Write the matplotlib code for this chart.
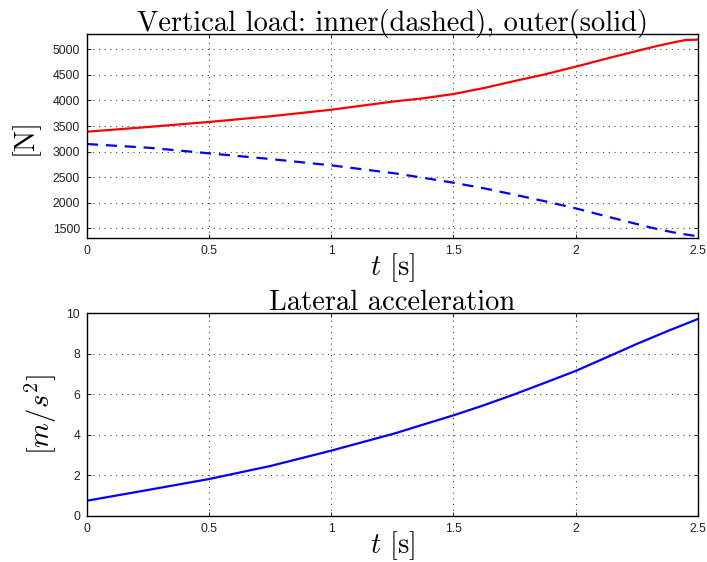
import matplotlib
matplotlib.use("Agg")
import matplotlib.pyplot as plt

plt.rcParams['mathtext.fontset'] = 'cm'
plt.rcParams['font.family'] = ['Liberation Sans', 'DejaVu Sans']
plt.rcParams['axes.unicode_minus'] = False

# time samples [s]
t = [0.0, 0.25, 0.5, 0.75, 1.0, 1.26, 1.375, 1.5, 1.625, 1.75, 1.875, 2.0,
     2.125, 2.25, 2.325, 2.4, 2.45, 2.5]
# vertical load, outer wheel (solid) [N]
f_outer = [3389, 3481, 3580, 3690, 3819, 3983, 4041, 4126, 4243, 4380, 4511, 4660,
           4816, 4967, 5055, 5135, 5182, 5190]
# vertical load, inner wheel (dashed) [N]
f_inner = [3148, 3076, 2966, 2855, 2731, 2575, 2489, 2391, 2282, 2157, 2028, 1891,
           1735, 1584, 1495, 1420, 1380, 1345]
# lateral acceleration [m/s^2]
t_acc = [0.0, 0.25, 0.5, 0.75, 1.0, 1.26, 1.375, 1.5, 1.625, 1.75, 1.875, 2.0,
         2.125, 2.25, 2.375, 2.5]
a_lat = [0.74, 1.27, 1.81, 2.45, 3.21, 4.06, 4.49, 4.95, 5.45, 5.99, 6.56, 7.14,
         7.80, 8.47, 9.10, 9.70]

xticks = [0, 0.5, 1, 1.5, 2, 2.5]
xticklabels = ['0', '0.5', '1', '1.5', '2', '2.5']

fig = plt.figure(figsize=(7.07, 5.62), dpi=100)
ax1 = fig.add_axes([87/707, 1 - 238/562, 610.7/707, 204/562])
ax2 = fig.add_axes([87/707, 1 - 515.7/562, 610.7/707, 202.7/562])

label_font = dict(family='cmr10', size=20.5)


def matlab_style(ax):
    ax.grid(True, linestyle=(0, (1, 4.5)), color='#3a3a3a', linewidth=0.75)
    ax.tick_params(direction='in', top=True, right=True, labelsize=8.8,
                   length=3, width=0.7, colors='#222222', pad=5)
    for s in ax.spines.values():
        s.set_linewidth(1.0)
    ax.set_xticks(xticks)
    ax.set_xticklabels(xticklabels)
    ax.set_xlim(0, 2.5)
    ax.set_xlabel(r'$t$ [s]', **label_font, labelpad=-4)


ax1.plot(t, f_outer, color='red', linewidth=1.6)
ax1.plot(t, f_inner, color='blue', linewidth=1.6, linestyle=(0, (5, 3.5)))
ax1.set_ylim(1310, 5300)
ax1.set_yticks([1500, 2000, 2500, 3000, 3500, 4000, 4500, 5000])
matlab_style(ax1)
ax1.set_ylabel('[N]', **label_font, labelpad=10)
ax1.set_title('Vertical load: inner(dashed), outer(solid)', **label_font, pad=2)

ax2.plot(t_acc, a_lat, color='blue', linewidth=1.6)
ax2.set_ylim(0, 10)
ax2.set_yticks([0, 2, 4, 6, 8, 10])
matlab_style(ax2)
ax2.set_ylabel(r'$[m/s^2]$', size=20.5, labelpad=5)
ax2.set_title('Lateral acceleration', **label_font, pad=2)

fig.savefig('out.png', dpi=100)
